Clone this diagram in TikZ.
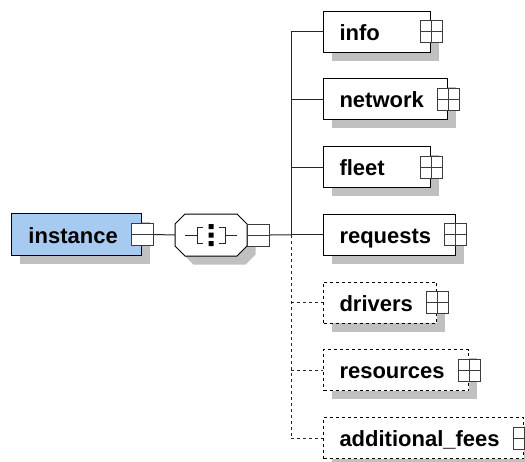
\documentclass[tikz,border=0pt]{standalone}
\usepackage{fontspec}
\setmainfont{Liberation Sans}
\usetikzlibrary{positioning,shadows}
\definecolor{elfill}{RGB}{166,202,240}
\definecolor{shdgray}{RGB}{192,192,192}
\definecolor{boxgray}{RGB}{60,60,60}
\tikzset{
  shd/.style={drop shadow={shadow xshift=8.5pt, shadow yshift=-8.5pt, fill=shdgray, opacity=1}},
  elem/.style={draw=black, fill=white, shd, line width=1pt, anchor=west,
               minimum height=41pt, inner xsep=0pt, inner ysep=0pt, text height=17pt, text depth=0pt,
               font=\fontsize{22}{24}\selectfont\bfseries},
  optel/.style={elem, dashed},
  minw/.style={text width=107pt, align=left},
  pm/.style={draw=boxgray, fill=white, line width=1pt, minimum size=22pt, inner sep=0pt},
  plusbox/.style={pm, path picture={
      \draw[boxgray, line width=1pt] (path picture bounding box.west) -- (path picture bounding box.east)
            (path picture bounding box.north) -- (path picture bounding box.south);}},
  minbox/.style={pm, path picture={
      \draw[boxgray, line width=1pt] (path picture bounding box.west) -- (path picture bounding box.east);}},
  seqbox/.style={minimum width=72pt, minimum height=42pt, inner sep=0pt},
  conn/.style={draw=black!85, line width=1pt},
}
% one child element with its expand box
\newcommand{\xel}[4]{%
  \node[#1] (#2) at (323,#3) {\hspace*{16pt}#4\hspace*{24pt}};
  \node[plusbox] (#2-p) at (#2.east) {};}
% octagon outline of the compositor, around the origin
\newcommand{\octo}{(-26,-21) -- (26,-21) -- (36,-11) -- (36,11) -- (26,21) -- (-26,21) -- (-36,11) -- (-36,-11) -- cycle}

\begin{document}
\begin{tikzpicture}[x=1pt, y=-1pt]
  \useasboundingbox (0,0) rectangle (525,461);
  \clip (0,0) rectangle (525,461);
  % root element and sequence compositor
  \node[elem, fill=elfill, minimum height=42pt] (instance) at (11,234.5) {\hspace*{17pt}instance\hspace*{24pt}};
  \node[minbox] (instance-m) at (instance.east) {};
  \node[seqbox] (seq) at (211,235) {};
  \begin{scope}[shift={(seq.center)}]
    \fill[shdgray] [shift={(8.5,8.5)}] \octo;
    \draw[line width=1pt, fill=white] \octo;
    \draw[conn] (-26,0) -- (-14,0) (-8,-8) -- (-14,-8) -- (-14,8) -- (-8,8)
                (8,-8) -- (14,-8) -- (14,8) -- (8,8) (14,0) -- (26,0);
    \fill (-2.5,-11) rectangle (2.5,-6) (-2.5,-2.5) rectangle (2.5,2.5) (-2.5,6) rectangle (2.5,11);
  \end{scope}
  \node[minbox, anchor=west] (seq-m) at (seq.east) {};
  \coordinate (trunk) at (291,234.75);
  % children
  \xel{elem, minw}{info}{31.5}{info}
  \xel{elem}{network}{99.25}{network}
  \xel{elem, minw}{fleet}{167}{fleet}
  \xel{elem}{requests}{234.75}{requests}
  \xel{optel}{drivers}{302.5}{drivers}
  \xel{optel}{resources}{370.25}{resources}
  \xel{optel}{fees}{438}{additional\_fees}
  % connectors
  \draw[conn] (instance-m.east) -- (seq.west);
  \draw[conn] (seq-m.east) -- (trunk);
  \draw[conn] (trunk |- info) -- (trunk);
  \draw[conn, dashed] (trunk) -- (trunk |- fees);
  \draw[conn] (trunk |- info) -- (info.west);
  \draw[conn] (trunk |- network) -- (network.west);
  \draw[conn] (trunk |- fleet) -- (fleet.west);
  \draw[conn] (trunk) -- (requests.west);
  \draw[conn, dashed] (trunk |- drivers) -- (drivers.west);
  \draw[conn, dashed] (trunk |- resources) -- (resources.west);
  \draw[conn, dashed] (trunk |- fees) -- (fees.west);
\end{tikzpicture}
\end{document}
